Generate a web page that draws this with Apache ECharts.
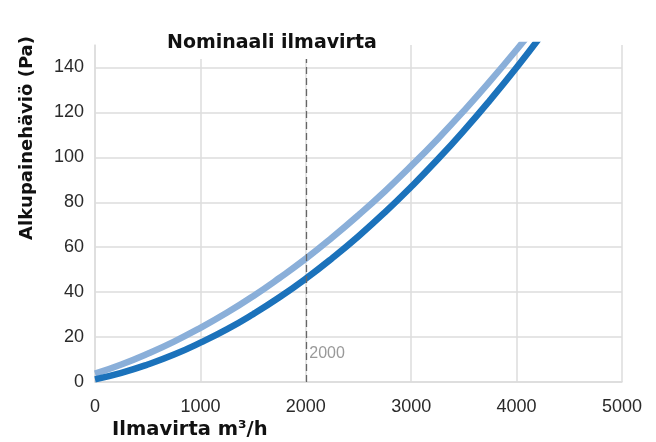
<!DOCTYPE html>
<html>
<head>
<meta charset="utf-8">
<script src="https://cdn.jsdelivr.net/npm/echarts@6/dist/echarts.min.js"></script>
<style>
  html, body { margin: 0; padding: 0; background: #fff; }
  #chart { width: 656px; height: 442px; }
</style>
</head>
<body>
<div id="chart"></div>
<script>
// ilmavirta m3/h
var airflow = [0, 250, 500, 750, 1000, 1250, 1500, 1750, 2000, 2250, 2500, 2750, 3000, 3250, 3500, 3750, 4000, 4250];
// painehäviö (Pa), vaalea käyrä
var pressureLight = [3.7, 7.8, 12.6, 18.0, 24.1, 30.8, 38.2, 46.3, 54.9, 64.3, 74.3, 84.9, 96.2, 108.1, 120.7, 134.0, 147.9, 162.4];
// painehäviö (Pa), tumma käyrä
var pressureDark = [1.2, 4.1, 7.8, 12.2, 17.5, 23.4, 30.2, 37.7, 46.0, 55.1, 64.9, 75.5, 86.9, 99.0, 111.9, 125.6, 140.0, 155.2];

var nominalFlow = 2000;
var xTicks = { min: 0, max: 5000, interval: 1000 };
var yTicks = { min: 0, max: 150, interval: 20 };

function pairs(xs, ys) {
	return xs.map(function(x, i) { return [x, ys[i]]; });
}

var fontFamily = '"Liberation Sans", Arial, sans-serif';
var boldFamily = '"DejaVu Sans", sans-serif';
var gridColor = '#dcdcdc';

var chart = echarts.init(document.getElementById('chart'));
chart.setOption({
	backgroundColor: '#ffffff',
	animation: false,
	title: {
		text: 'Nominaali ilmavirta',
		left: 162,
		top: 31,
		padding: [3, 5, 6, 5],
		backgroundColor: '#ffffff',
		textStyle: { fontFamily: boldFamily, fontSize: 19, fontWeight: 'bold', color: '#111' }
	},
	grid: { left: 95, right: 34, top: 45, bottom: 60 },
	xAxis: {
		type: 'value',
		min: xTicks.min, max: xTicks.max, interval: xTicks.interval,
		axisLine: { show: true, lineStyle: { color: gridColor, width: 1.5 } },
		axisTick: { show: false },
		axisLabel: {
			margin: 16, fontFamily: fontFamily, fontSize: 18, color: '#2a2a2a',
			formatter: function(v) { return String(v); }
		},
		splitLine: { show: true, lineStyle: { color: gridColor, width: 1.5 } }
	},
	yAxis: {
		type: 'value',
		min: yTicks.min, max: yTicks.max, interval: yTicks.interval,
		axisLine: { show: true, lineStyle: { color: gridColor, width: 1.5 } },
		axisTick: { show: false },
		axisLabel: { margin: 11, fontFamily: fontFamily, fontSize: 18, color: '#2a2a2a', showMaxLabel: false },
		splitLine: { show: true, showMaxLine: false, lineStyle: { color: gridColor, width: 1.5 } }
	},
	graphic: [
		{
			type: 'text', x: 27, y: 138, rotation: Math.PI / 2,
			style: { text: 'Alkupainehäviö (Pa)', fontFamily: boldFamily, fontSize: 18, fontWeight: 'bold', fill: '#111', align: 'center', verticalAlign: 'middle' }
		},
		{
			type: 'text', x: 112, y: 430,
			style: { text: 'Ilmavirta m³/h', fontFamily: boldFamily, fontSize: 19.5, fontWeight: 'bold', fill: '#111', align: 'left', verticalAlign: 'middle' }
		}
	],
	series: [
		{
			type: 'line',
			smooth: true,
			showSymbol: false,
			data: pairs(airflow, pressureLight),
			lineStyle: { color: '#8aafd9', width: 6.5 },
			z: 3,
			markLine: {
				silent: true,
				symbol: 'none',
				label: { show: false },
				lineStyle: { color: '#666', type: [7, 4], width: 1.3 },
				data: [{ xAxis: nominalFlow }]
			},
			markPoint: {
				silent: true,
				symbol: 'circle',
				symbolSize: 1,
				itemStyle: { color: 'rgba(0,0,0,0)' },
				label: { show: true, position: 'right', distance: 3, formatter: String(nominalFlow), fontFamily: fontFamily, fontSize: 16, color: '#999' },
				data: [{ coord: [nominalFlow, 12.5] }]
			}
		},
		{
			type: 'line',
			smooth: true,
			showSymbol: false,
			data: pairs(airflow, pressureDark),
			lineStyle: { color: '#1b72bb', width: 6.5 },
			z: 4
		}
	]
});
</script>
</body>
</html>
